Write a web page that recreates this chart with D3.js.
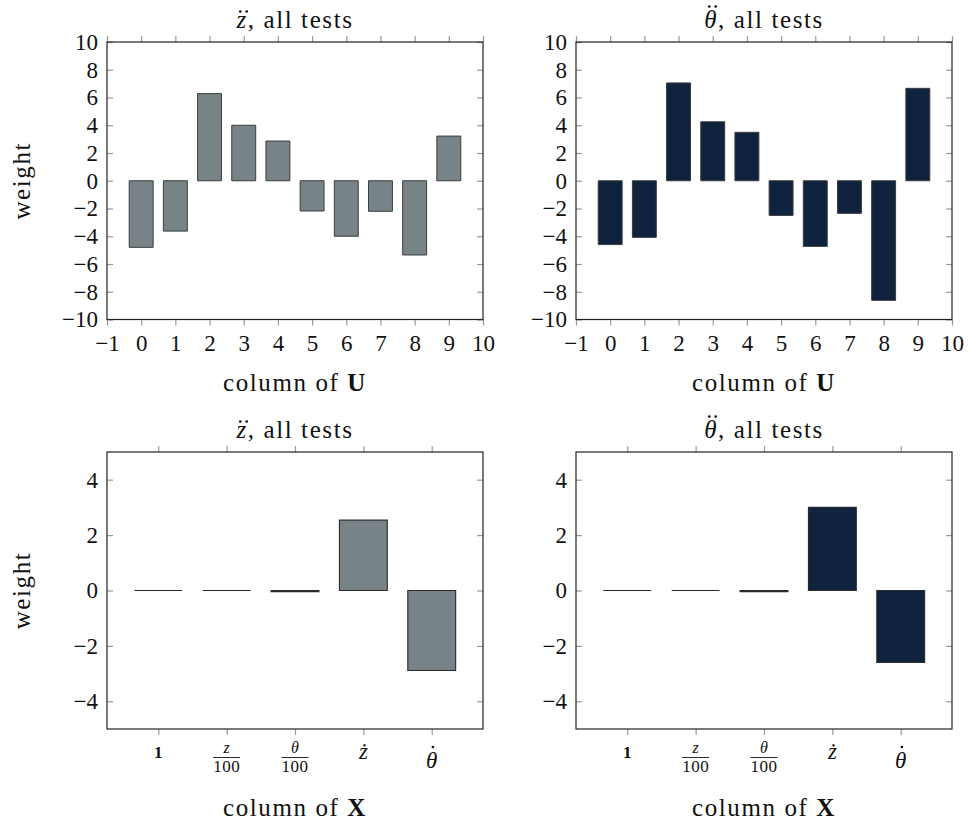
<!DOCTYPE html>
<html>
<head>
<meta charset="utf-8">
<script src="https://cdn.jsdelivr.net/npm/d3@7"></script>
<style>
  body { margin: 0; background: #fff; }
  svg text { font-family: "Liberation Serif", "DejaVu Serif", serif; fill: #111; }
  .lbl { font-size: 25px; letter-spacing: 1.6px; }
</style>
</head>
<body>
<svg id="chart" width="968" height="825"></svg>
<script>
// columns of U (top row) and their weights
const uCols = [0, 1, 2, 3, 4, 5, 6, 7, 8, 9];
const zddU = [-4.8, -3.63, 6.28, 4.0, 2.86, -2.18, -4.0, -2.2, -5.35, 3.22];
const thddU = [-4.6, -4.08, 7.05, 4.25, 3.49, -2.5, -4.73, -2.35, -8.62, 6.66];
const uTicksX = [-1, 0, 1, 2, 3, 4, 5, 6, 7, 8, 9, 10];
const uTicksY = [-10, -8, -6, -4, -2, 0, 2, 4, 6, 8, 10];

// columns of X (bottom row)
const xCols = ["one", "z100", "th100", "zd", "thd"];
const zddX = [0.0, 0.0, -0.04, 2.54, -2.89];
const thddX = [0.0, 0.0, -0.04, 3.0, -2.6];
const xTicksY = [-4, -2, 0, 2, 4];

const GREY = "#778387";
const NAVY = "#0f223e";
const TICK_FS = 23;

const svg = d3.select("#chart");

const fmt = d => d < 0 ? "\u2212" + Math.abs(d) : d;

// time-derivative dots over the first glyph of a text node
function dots(g, t, n, rise, shift) {
    const ext = t.node().getExtentOfChar(0);
    const cx = ext.x + ext.width / 2 + shift;
    const cy = +t.attr("y") - rise;
    const offs = n === 2 ? [-3.2, 3.2] : [0];
    offs.forEach(o => {
        g.append("circle")
            .attr("cx", cx + o).attr("cy", cy)
            .attr("r", 1.35)
            .attr("fill", "#111");
    });
}

function frame(g, x0, y0, w, h) {
    g.append("rect")
        .attr("x", x0).attr("y", y0)
        .attr("width", w).attr("height", h)
        .attr("fill", "none")
        .attr("stroke", "#222")
        .attr("stroke-width", 1.2);
}

function styleAxis(a) {
    a.select(".domain").remove();
    a.selectAll("line").attr("stroke", "#9a9a9a").attr("stroke-width", 1.2);
    a.selectAll("text").style("font-size", TICK_FS + "px").attr("fill", "#111");
}

function yAxes(g, y, ticks, x0, w) {
    const left = g.append("g")
        .attr("transform", `translate(${x0},0)`)
        .call(d3.axisLeft(y).tickValues(ticks).tickSize(-6).tickPadding(9).tickFormat(fmt));
    const right = g.append("g")
        .attr("transform", `translate(${x0 + w},0)`)
        .call(d3.axisRight(y).tickValues(ticks).tickSize(-6).tickFormat(""));
    styleAxis(left);
    styleAxis(right);
}

function title(g, x, yb, sym) {
    const t = g.append("text")
        .attr("class", "lbl")
        .attr("x", x).attr("y", yb)
        .attr("text-anchor", "middle");
    t.append("tspan").style("font-style", "italic").text(sym);
    t.append("tspan").text(", all tests");
    dots(g, t, 2, sym === "z" ? 16.5 : 21.5, 1.4);
}

function xLabel(g, x, yb, letter) {
    const t = g.append("text")
        .attr("class", "lbl")
        .attr("x", x).attr("y", yb)
        .attr("text-anchor", "middle");
    t.append("tspan").text("column of ");
    t.append("tspan").style("font-weight", "bold").text(letter);
}

function yLabel(g, cx, cy) {
    g.append("text")
        .attr("class", "lbl")
        .attr("transform", `translate(${cx},${cy}) rotate(-90)`)
        .attr("text-anchor", "middle")
        .attr("dy", "0.32em")
        .text("weight");
}

function barPath(x0, x1, y0, y1) {
    return `M${x0},${y0}H${x1}V${y1}H${x0}Z`;
}

function topPanel(x0, y0, w, h, values, color, sym, withY) {
    const g = svg.append("g");
    const x = d3.scaleLinear().domain([-1, 10]).range([x0, x0 + w]);
    const y = d3.scaleLinear().domain([-10, 10]).range([y0 + h, y0]);

    g.selectAll(".bar")
        .data(uCols)
        .enter()
        .append("path")
        .attr("class", "bar")
        .attr("d", (d, i) => barPath(x(d - 0.35), x(d + 0.35), y(0), y(values[i])))
        .attr("fill", color)
        .attr("stroke", "#3c3c3c")
        .attr("stroke-width", 1);

    const bottom = g.append("g")
        .attr("transform", `translate(0,${y0 + h})`)
        .call(d3.axisBottom(x).tickValues(uTicksX).tickSize(6).tickPadding(9).tickFormat(fmt));
    const top = g.append("g")
        .attr("transform", `translate(0,${y0})`)
        .call(d3.axisTop(x).tickValues(uTicksX).tickSize(6).tickFormat(""));
    styleAxis(bottom);
    styleAxis(top);

    yAxes(g, y, uTicksY, x0, w);
    frame(g, x0, y0, w, h);
    title(g, x0 + w / 2, y0 - 14, sym);
    xLabel(g, x0 + w / 2, y0 + h + 71, "U");
    if (withY) yLabel(g, 22, y(0));
}

function xTickLabel(g, key, cx, top) {
    if (key === "one") {
        g.append("text").attr("x", cx).attr("y", top + 14)
            .attr("text-anchor", "middle")
            .style("font-size", "17px").style("font-weight", "bold").text("1");
    } else if (key === "z100" || key === "th100") {
        g.append("text").attr("x", cx).attr("y", top + 9)
            .attr("text-anchor", "middle")
            .style("font-size", "16px").style("font-style", "italic")
            .text(key === "z100" ? "z" : "\u03b8");
        g.append("line")
            .attr("x1", cx - 13.5).attr("x2", cx + 13.5)
            .attr("y1", top + 13.5).attr("y2", top + 13.5)
            .attr("stroke", "#111").attr("stroke-width", 0.9);
        g.append("text").attr("x", cx).attr("y", top + 28)
            .attr("text-anchor", "middle")
            .style("font-size", "17px").style("letter-spacing", "0.5px").text("100");
    } else if (key === "zd") {
        g.append("text").attr("x", cx).attr("y", top + 15)
            .attr("text-anchor", "middle")
            .style("font-size", "23px").style("font-style", "italic").text("\u017c");
    } else {
        const t = g.append("text").attr("x", cx).attr("y", top + 24)
            .attr("text-anchor", "middle")
            .style("font-size", "23px").style("font-style", "italic").text("\u03b8");
        dots(g, t, 1, 21, 1.2);
    }
}

function bottomPanel(x0, y0, w, h, values, color, sym, withY) {
    const g = svg.append("g");
    const x = d3.scalePoint().domain(xCols).range([x0, x0 + w]).padding(0.75);
    const y = d3.scaleLinear().domain([-5, 5]).range([y0 + h, y0]);
    const bw = x.step() * 0.7;

    g.selectAll(".bar")
        .data(xCols)
        .enter()
        .append("path")
        .attr("class", "bar")
        .attr("d", (d, i) => barPath(x(d) - bw / 2, x(d) + bw / 2, y(0), y(values[i])))
        .attr("fill", color)
        .attr("stroke", "#2a2a2a")
        .attr("stroke-width", 1.1);

    const bottom = g.append("g")
        .attr("transform", `translate(0,${y0 + h})`)
        .call(d3.axisBottom(x).tickSize(6).tickFormat(""));
    const top = g.append("g")
        .attr("transform", `translate(0,${y0})`)
        .call(d3.axisTop(x).tickSize(6).tickFormat(""));
    styleAxis(bottom);
    styleAxis(top);

    xCols.forEach(k => xTickLabel(g, k, x(k), y0 + h + 15));

    yAxes(g, y, xTicksY, x0, w);
    frame(g, x0, y0, w, h);
    title(g, x0 + w / 2, y0 - 14, sym);
    xLabel(g, x0 + w / 2, y0 + h + 87, "X");
    if (withY) yLabel(g, 22, y(0));
}

topPanel(107, 42, 376, 277.5, zddU, GREY, "z", true);
topPanel(576, 42, 376, 277.5, thddU, NAVY, "\u03b8", false);
bottomPanel(107, 452, 376, 277, zddX, GREY, "z", true);
bottomPanel(576, 452, 376, 277, thddX, NAVY, "\u03b8", false);
</script>
</body>
</html>
